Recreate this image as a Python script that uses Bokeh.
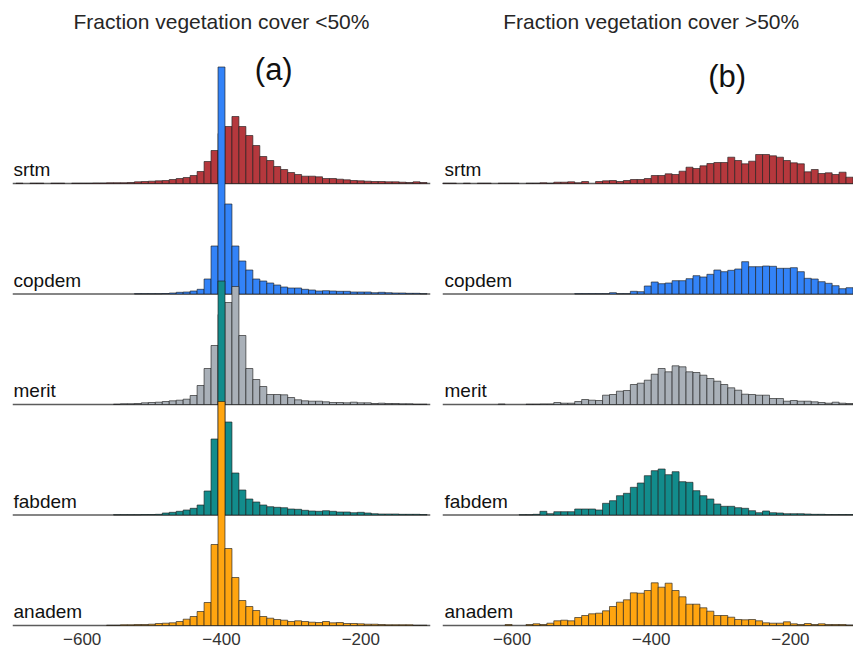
from bokeh.plotting import figure
from bokeh.layouts import row
from bokeh.models import FixedTicker, Range1d, Span
from bokeh.embed import file_html
from bokeh.resources import INLINE
from bokeh.core.properties import value

# ---------------- data ----------------
NAMES = ["srtm", "copdem", "merit", "fabdem", "anadem"]
COLORS = ["#B5383D", "#3383F8", "#A9B0B8", "#128C8C", "#FFA510"]
PANEL_TITLES = ["Fraction vegetation cover <50%", "Fraction vegetation cover >50%"]
PANEL_TAGS = ["(a)", "(b)"]
TICKS = [-600, -400, -200]
TICK_LABELS = ["\u2212600", "\u2212400", "\u2212200"]
BIN_WIDTH = 10

# panel (a): bins centred on -690 ... -110
CENTERS_A = list(range(-690, -100, 10))
SRTM_A = [0.3, 0, 0.3, 0.3, 0, 0.3, 0.3, 0, 0.3, 0.3,
          0.3, 0.5, 0.5, 0.7, 0.7, 0.7, 1.0, 1.7, 2.0, 2.3,
          2.7, 3.0, 4.0, 5.0, 6.0, 8.0, 12, 22, 33, 50,
          57, 67, 57, 48, 38, 27, 23, 17, 14, 11,
          9, 7.3, 7.3, 6.7, 5, 5, 4.3, 3.7, 3, 2.7,
          2.3, 2, 2, 1.7, 1.7, 1.3, 1, 1.7, 1]
COPDEM_A = [0, 0, 0, 0, 0, 0, 0, 0, 0, 0,
            0, 0, 0, 0, 0, 0, 0, 0.3, 0.3, 0.3,
            0.3, 0.5, 1.0, 1.7, 2.0, 3.0, 4.7, 15, 48, 227,
            90, 48, 33, 24, 15, 13, 11, 9, 7, 6,
            6, 4.7, 4, 3, 3.3, 3, 2.7, 2.7, 2, 2,
            2, 1.3, 1.7, 1.3, 1.0, 1.0, 0.7, 0.7, 0.3]
MERIT_A = [0, 0, 0, 0, 0, 0, 0, 0, 0, 0,
           0, 0, 0, 0, 0.3, 0.7, 0.7, 1.0, 1.7, 2.0,
           2.3, 3.0, 3.7, 4.3, 5.3, 9, 19, 36, 59, 90,
           102, 118, 69, 36, 25, 18, 10, 10, 9.7, 7,
           4.7, 3.7, 3.3, 3.3, 2.7, 2, 2, 1.7, 2.3, 1.7,
           1.7, 1, 1.3, 1, 1, 0.7, 0.7, 0.3, 0.3]
FABDEM_A = [0, 0, 0, 0, 0, 0, 0, 0, 0, 0,
            0, 0, 0, 0, 0.3, 0.3, 0.3, 0.3, 0.5, 0.5,
            0.7, 2, 2.7, 3.7, 5, 6.7, 10, 24, 76, 234,
            93, 42, 25, 16, 13, 10, 8.3, 7.7, 7.3, 6,
            5.7, 4.7, 4, 3.7, 4.3, 3.7, 3, 3, 2.3, 2.7,
            2, 1.3, 1, 1, 1, 0.7, 0.7, 0.7, 0.5]
ANADEM_A = [0, 0, 0, 0, 0, 0, 0, 0, 0, 0,
            0, 0, 0, 0.3, 0.3, 0.7, 0.7, 1, 1, 1.3,
            2, 2.3, 2.7, 4, 6.3, 9, 14, 23, 81, 224,
            77, 48, 25, 19, 15, 9, 7.3, 6, 5.3, 4,
            4.7, 4, 3.3, 3, 4, 2.7, 3, 2, 2, 1.7,
            1.3, 1.3, 1, 0.7, 0.7, 0.7, 0.7, 0.3, 0.3]

# panel (b): bins centred on -695 ... -115
CENTERS_B = list(range(-695, -110, 10))
SRTM_B = [0.3, 0.3, 0, 0.3, 0, 0.3, 0.3, 0, 0.3, 0.3,
          0.3, 0, 0.3, 0.3, 0.7, 0.3, 1.3, 1.3, 1.7, 0.7,
          2, 0, 2, 2.7, 3, 2, 3, 4, 4, 5,
          8, 8, 9.7, 9, 12.3, 16.3, 15, 17.7, 20, 21,
          21, 26.3, 23, 19.7, 22.3, 29, 29, 27.7, 26.3, 23,
          20.7, 19.7, 11.7, 14, 10, 10.7, 9, 11.3, 6.3]
COPDEM_B = [0, 0, 0, 0, 0, 0, 0, 0, 0, 0,
            0, 0, 0, 0, 0, 0, 0, 0, 0, 0.3,
            0.3, 0.3, 0.3, 0.3, 1.3, 0.3, 0.3, 2.7, 2.3, 8,
            12, 10.3, 11, 13.3, 13.3, 15.3, 18.3, 17, 19.7, 24,
            22.3, 23.7, 25, 32.3, 27.3, 27.3, 28, 27.7, 25.7, 25.7,
            26.3, 22.3, 15.7, 15, 12.3, 10.7, 8.3, 5.3, 6.3]
MERIT_B = [0, 0, 0, 0, 0, 0, 0, 0, 0.5, 0,
           0, 0, 0.3, 0.3, 0.5, 0.5, 2, 1.3, 1.3, 3,
           5, 4.3, 4, 9.3, 10, 13.3, 14, 20, 21.3, 24.3,
           30.3, 36, 32.7, 38.7, 37.7, 32.7, 32, 29.3, 26, 23.3,
           20, 16.7, 14.3, 10.3, 10, 9.3, 9.3, 6, 6, 3.3,
           4, 3.3, 3.3, 2.7, 2, 1.3, 2.3, 1.3, 1]
FABDEM_B = [0, 0, 0, 0, 0, 0, 0, 0, 0, 0,
            0, 0.3, 0.3, 0.7, 3.7, 1.3, 3.3, 3.3, 3.3, 6,
            6, 6, 5, 11.7, 14.3, 19.3, 21.7, 27.7, 32, 39.3,
            44.3, 46, 40.3, 43.3, 33.3, 32.7, 24.3, 19.3, 16, 11,
            8.7, 8.7, 7.3, 6.7, 4.3, 2.3, 4, 2.3, 2, 1.3,
            1.3, 1.3, 1, 0.7, 0.7, 0.5, 0.5, 0.5, 0.5]
ANADEM_B = [0, 0, 0, 0, 0, 0, 0, 0, 0, 1,
            0, 0, 1, 1.7, 1, 2.3, 4.7, 5.3, 4.7, 8,
            10, 11.7, 12.3, 14.7, 19, 23.3, 25.7, 32.7, 32.3, 35,
            42.7, 38.3, 42.3, 35, 28.7, 21.3, 21.3, 17.7, 14.3, 10,
            10, 8.3, 6, 5.7, 6, 4.7, 2.7, 2.3, 2.3, 3.7,
            1.7, 1, 2, 1, 1.7, 1, 1, 1, 0.5]

SERIES_A = [SRTM_A, COPDEM_A, MERIT_A, FABDEM_A, ANADEM_A]
SERIES_B = [SRTM_B, COPDEM_B, MERIT_B, FABDEM_B, ANADEM_B]

# ---------------- layout constants ----------------
ROW_PX = 110.5            # pixels between ridge baselines
HEIGHT_SCALE = 1 / 110.5  # histogram value -> ridge units
FRAME_H = 627
BASE_PIX = 625            # baseline of lowest ridge, from frame top
LABEL_LIFT_PX = 14        # ridge label anchor above ridge line
FONT = "Liberation Sans"


def ypix(pix_from_top):
    return (BASE_PIX - pix_from_top) / ROW_PX


def make_panel(centers, series, x_end, fwidth, bl, br, idx, tag_x, tag_pix_y, lab_off):
    y_start = (BASE_PIX - FRAME_H) / ROW_PX
    y_end = BASE_PIX / ROW_PX
    p = figure(frame_width=fwidth, frame_height=FRAME_H,
               x_range=Range1d(-700, x_end), y_range=Range1d(y_start, y_end),
               output_backend="svg", toolbar_location=None,
               y_axis_location=None,
               min_border_left=bl, min_border_right=br,
               min_border_top=0, min_border_bottom=0,
               background_fill_color="white", border_fill_color="white")
    p.outline_line_color = None
    p.grid.visible = False
    ax = p.xaxis[0]
    ax.ticker = FixedTicker(ticks=TICKS)
    ax.major_label_overrides = dict(zip(TICKS, TICK_LABELS))
    ax.axis_line_color = None
    ax.major_tick_line_color = None
    ax.minor_tick_line_color = None
    ax.major_tick_out = 0
    ax.major_tick_in = 0
    ax.major_label_standoff = 5
    ax.major_label_text_font = FONT
    ax.major_label_text_font_size = "17px"
    ax.major_label_text_color = "#333333"

    n = len(NAMES)
    for i, (name, color, vals) in enumerate(zip(NAMES, COLORS, series)):
        y0 = n - 1 - i
        p.add_layout(Span(location=y0, dimension="width", level="underlay",
                          line_color="#5c5c5c", line_width=1.5))
        xs = [c for c, v in zip(centers, vals) if v > 0]
        hs = [v for v in vals if v > 0]
        p.quad(left=[c - BIN_WIDTH / 2 for c in xs],
               right=[c + BIN_WIDTH / 2 for c in xs],
               bottom=[y0] * len(xs),
               top=[y0 + h * HEIGHT_SCALE for h in hs],
               fill_color=color, fill_alpha=1.0,
               line_color="#1e1e1e", line_width=0.8, line_alpha=0.8)

    lift = LABEL_LIFT_PX / ROW_PX
    p.text(x=[-700] * n, y=[k + lift for k in range(n - 1, -1, -1)], text=NAMES,
           x_offset=lab_off,
           text_font=value(FONT), text_font_size="19px",
           text_color="#111111", text_baseline="middle", text_align="left")

    p.text(x=[-400], y=[ypix(21)], text=[PANEL_TITLES[idx]],
           text_font=value(FONT), text_font_size="21px",
           text_color="#262626", text_baseline="middle", text_align="center")
    p.text(x=[tag_x], y=[ypix(tag_pix_y)], text=[PANEL_TAGS[idx]],
           text_font=value(FONT), text_font_size="31px",
           text_color="#111111", text_baseline="middle", text_align="center")
    return p


p1 = make_panel(CENTERS_A, SERIES_A, -100, 418, 12, 6, 0, -325, 69, 1)
p2 = make_panel(CENTERS_B, SERIES_B, -700 + 411 / 0.6958, 411, 6, 0, 1, -291, 76, 2)

layout = row(p1, p2)
open("out.html", "w").write(file_html(layout, INLINE))
